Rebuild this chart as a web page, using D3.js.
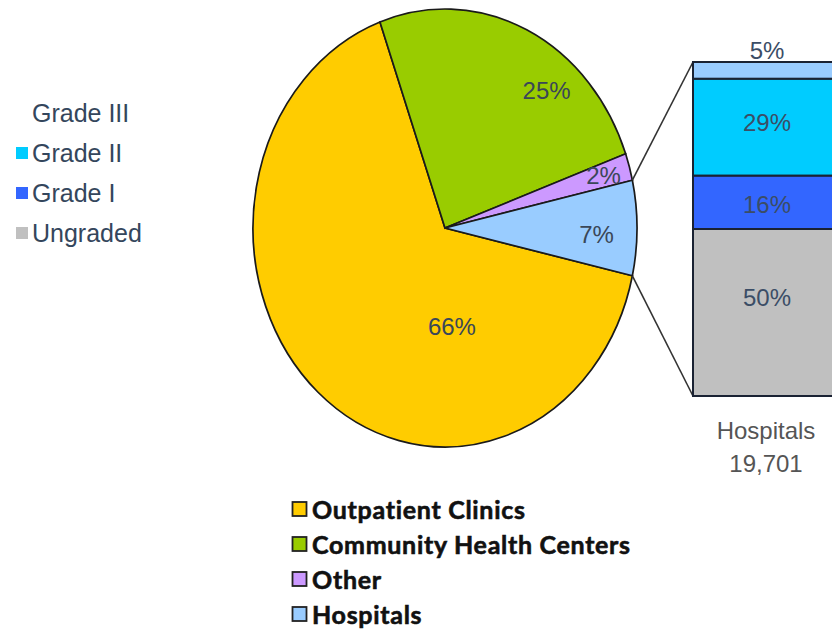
<!DOCTYPE html>
<html>
<head>
<meta charset="utf-8">
<script src="https://cdn.jsdelivr.net/npm/d3@7"></script>
<style>
  body { margin: 0; background: #fff; }
  svg { display: block; }
</style>
</head>
<body>
<div id="chart"></div>
<script>
// pie data (legend order)
const sectorNames = ["Outpatient Clinics", "Community Health Centers", "Other", "Hospitals"];
const sectorValues = [66, 25, 2, 7];
const sectorColors = ["#FFCC00", "#99CC00", "#CC99FF", "#99CCFF"];
// order of slices clockwise from the top
const sliceOrder = ["Community Health Centers", "Other", "Hospitals", "Outpatient Clinics"];

// hospitals breakdown (top to bottom)
const gradeNames = ["Grade III", "Grade II", "Grade I", "Ungraded"];
const gradeValues = [5, 29, 16, 50];
const gradeColors = ["#99CCFF", "#00CCFF", "#3366FF", "#C0C0C0"];
const barTitle = "Hospitals";
const barTotal = 19701;

const width = 832, height = 629;
const cx = 445, cy = 228, rx = 192, ry = 219;
const labelFont = "'Liberation Sans', Arial, sans-serif";
const textColor = "#3a4758";

const svg = d3.select("#chart").append("svg")
    .attr("width", width)
    .attr("height", height);

const sectors = sectorNames.map((name, i) => ({name, value: sectorValues[i], color: sectorColors[i]}));

const start = -19.8 * Math.PI / 180;
const pie = d3.pie()
    .value(d => d.value)
    .sort((a, b) => sliceOrder.indexOf(a.name) - sliceOrder.indexOf(b.name))
    .startAngle(start)
    .endAngle(start + 2 * Math.PI);
const arcs = pie(sectors);

const arc = d3.arc().innerRadius(0).outerRadius(ry);

// pie is drawn as a circle then squeezed into an ellipse
const pieG = svg.append("g")
    .attr("transform", `translate(${cx},${cy}) scale(${rx / ry},1)`);

pieG.selectAll("path")
    .data(arcs)
    .enter()
    .append("path")
    .attr("d", arc)
    .attr("fill", d => d.data.color)
    .attr("stroke", "#1a1a1a")
    .attr("stroke-width", 1.7)
    .attr("vector-effect", "non-scaling-stroke");

// point on the ellipse at a d3 pie angle
const onEllipse = (a, f) => [cx + f * rx * Math.sin(a), cy - f * ry * Math.cos(a)];

// label placement: angle shift (deg) and radius fraction
const labelTweak = {
    "Outpatient Clinics": [-46, 0.45],
    "Community Health Centers": [15, 0.82],
    "Other": [0, 0.86],
    "Hospitals": [2, 0.79]
};
const pct = d3.format(".0%");

svg.append("g").selectAll("text")
    .data(arcs)
    .enter()
    .append("text")
    .attr("x", d => {
        const t = labelTweak[d.data.name];
        const a = (d.startAngle + d.endAngle) / 2 + t[0] * Math.PI / 180;
        return onEllipse(a, t[1])[0];
    })
    .attr("y", d => {
        const t = labelTweak[d.data.name];
        const a = (d.startAngle + d.endAngle) / 2 + t[0] * Math.PI / 180;
        return onEllipse(a, t[1])[1];
    })
    .attr("text-anchor", "middle")
    .attr("dominant-baseline", "central")
    .attr("font-family", labelFont)
    .attr("font-size", 24)
    .attr("fill", textColor)
    .text(d => pct(d.data.value / 100));

// stacked bar for hospitals
const barX = 693, barW = 148;
const y = d3.scaleLinear().domain([0, 100]).range([396, 62]);

const grades = [];
let acc = 0;
for (let i = gradeNames.length - 1; i >= 0; i--) {
    grades.push({name: gradeNames[i], value: gradeValues[i], color: gradeColors[i], y0: acc, y1: acc + gradeValues[i]});
    acc += gradeValues[i];
}

const hosp = arcs.find(d => d.data.name === "Hospitals");
const p1 = onEllipse(hosp.startAngle, 1);
const p2 = onEllipse(hosp.endAngle, 1);

svg.append("line")
    .attr("x1", p1[0]).attr("y1", p1[1])
    .attr("x2", barX).attr("y2", y(100))
    .attr("stroke", "#333").attr("stroke-width", 1.6);
svg.append("line")
    .attr("x1", p2[0]).attr("y1", p2[1])
    .attr("x2", barX).attr("y2", y(0))
    .attr("stroke", "#333").attr("stroke-width", 1.6);

svg.append("g").selectAll("rect")
    .data(grades)
    .enter()
    .append("rect")
    .attr("x", barX)
    .attr("y", d => y(d.y1))
    .attr("width", barW)
    .attr("height", d => y(d.y0) - y(d.y1))
    .attr("fill", d => d.color)
    .attr("stroke", "#1a2233")
    .attr("stroke-width", 2);

// Excel-ish label spots: small segment label goes above the bar
svg.append("g").selectAll("text")
    .data(grades)
    .enter()
    .append("text")
    .attr("x", barX + barW / 2)
    .attr("y", d => d.value < 8 ? y(d.y1) - 12 : (y(d.y0) + y(d.y1)) / 2 - (d.value - 20) * 0.5)
    .attr("text-anchor", "middle")
    .attr("dominant-baseline", "central")
    .attr("font-family", labelFont)
    .attr("font-size", 24)
    .attr("fill", "#3b4d66")
    .text(d => pct(d.value / 100));

svg.append("text")
    .attr("x", barX + barW / 2 - 1)
    .attr("y", 430)
    .attr("text-anchor", "middle")
    .attr("dominant-baseline", "central")
    .attr("font-family", labelFont)
    .attr("font-size", 24)
    .attr("fill", "#555")
    .text(barTitle);
svg.append("text")
    .attr("x", barX + barW / 2 - 1)
    .attr("y", 463)
    .attr("text-anchor", "middle")
    .attr("dominant-baseline", "central")
    .attr("font-family", labelFont)
    .attr("font-size", 24)
    .attr("fill", "#555")
    .text(d3.format(",")(barTotal));

// grade legend (left)
const gl = svg.append("g").selectAll("g")
    .data(gradeNames.map((n, i) => ({name: n, color: gradeColors[i], hide: i === 0})))
    .enter()
    .append("g")
    .attr("transform", (d, i) => `translate(16,${113 + i * 40})`);
gl.filter(d => !d.hide).append("rect")
    .attr("x", 0).attr("y", -6)
    .attr("width", 12).attr("height", 12)
    .attr("fill", d => d.color);
gl.append("text")
    .attr("x", 16)
    .attr("dominant-baseline", "central")
    .attr("font-family", labelFont)
    .attr("font-size", 25)
    .attr("fill", "#34465c")
    .text(d => d.name);

// sector legend (bottom)
const sl = svg.append("g").selectAll("g")
    .data(sectors)
    .enter()
    .append("g")
    .attr("transform", (d, i) => `translate(292,${509 + i * 35})`);
sl.append("rect")
    .attr("x", 0.5).attr("y", -7)
    .attr("width", 14).attr("height", 14)
    .attr("fill", d => d.color)
    .attr("stroke", "#222")
    .attr("stroke-width", 1.8);
sl.append("text")
    .attr("x", 20)
    .attr("dominant-baseline", "central")
    .attr("font-family", "Lato, sans-serif")
    .attr("font-weight", "bold")
    .attr("font-size", 25)
    .attr("letter-spacing", 0.7)
    .attr("fill", "#111")
    .attr("stroke", "#111")
    .attr("stroke-width", 0.6)
    .text(d => d.name);
</script>
</body>
</html>
